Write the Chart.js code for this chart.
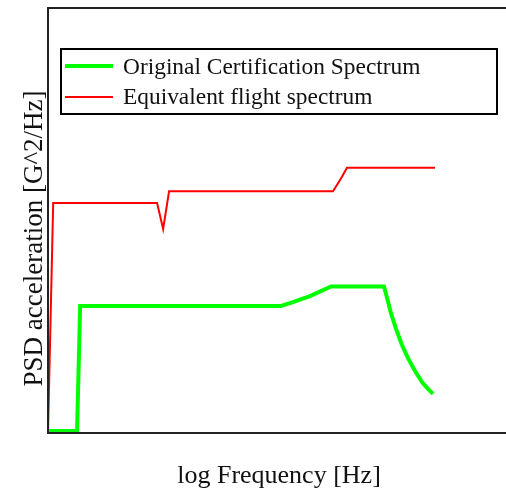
<!DOCTYPE html>
<html>
<head>
<title>PSD spectrum</title>
<script src="https://cdn.jsdelivr.net/npm/chart.js@4/dist/chart.umd.min.js"></script>
<style>
body { margin:0; background:#fff; }
</style>
</head>
<body>
<div style="position:relative;width:506px;height:492px;">
	<canvas id="myChart"></canvas>
</div>
<script>
// frequency [Hz] and PSD values (y in arbitrary units)
var certFreq = [10, 14.6, 15.2, 208, 243, 303, 399, 795, 827, 871, 930, 1005, 1087, 1191, 1304, 1410, 1507];
var certPsd  = [0.005, 0.005, 0.299, 0.299, 0.308, 0.322, 0.345, 0.345, 0.318, 0.282, 0.245, 0.207, 0.176, 0.146, 0.120, 0.104, 0.092];
var flightFreq = [10, 10.7, 41.4, 44.8, 48.4, 409, 430, 460, 491, 1545];
var flightPsd  = [0, 0.541, 0.541, 0.48, 0.569, 0.569, 0.583, 0.603, 0.624, 0.624];
var seriesNames = ['Original Certification Spectrum', 'Equivalent flight spectrum'];
var xTitle = 'log Frequency [Hz]';
var yTitle = 'PSD acceleration [G^2/Hz]';

function pts(xs, ys) {
	var out = [];
	for (var i = 0; i < xs.length; i++) out.push({x: xs[i], y: ys[i]});
	return out;
}

var SERIF = '"Liberation Serif", "DejaVu Serif", serif';

// frame, axis titles and the boxed legend inside the plot
var decor = {
	id: 'decor',
	afterDatasetsDraw: function(chart) {
		var ctx = chart.ctx, a = chart.chartArea;
		ctx.save();
		ctx.strokeStyle = '#222';
		ctx.lineWidth = 2;
		ctx.strokeRect(a.left, a.top, a.right - a.left + 4, a.bottom - a.top);

		ctx.fillStyle = '#111';
		ctx.textAlign = 'center';
		ctx.textBaseline = 'alphabetic';
		ctx.font = '26px ' + SERIF;
		ctx.fillText(xTitle, 279, 483);
		ctx.font = '27px ' + SERIF;
		ctx.translate(41.5, 238.5);
		ctx.rotate(-Math.PI / 2);
		ctx.fillText(yTitle, 0, 0);
		ctx.restore();

		ctx.save();
		ctx.fillStyle = '#fff';
		ctx.fillRect(61, 49, 436, 65);
		ctx.strokeStyle = '#000';
		ctx.lineWidth = 2;
		ctx.strokeRect(61, 49, 436, 65);
		ctx.font = '23.4px ' + SERIF;
		ctx.textBaseline = 'alphabetic';
		ctx.textAlign = 'left';
		var rows = [66, 97], base = [74, 104];
		chart.data.datasets.forEach(function(ds, i) {
			ctx.strokeStyle = ds.borderColor;
			ctx.lineWidth = ds.borderWidth;
			ctx.beginPath();
			ctx.moveTo(65, rows[i]);
			ctx.lineTo(113, rows[i]);
			ctx.stroke();
			ctx.fillStyle = '#111';
			ctx.fillText(ds.label, 123, base[i]);
		});
		ctx.restore();
	}
};

var ctx = document.getElementById('myChart').getContext('2d');
var chart = new Chart(ctx, {
	type: 'line',
	data: {
		datasets: [
			{ label: seriesNames[0], data: pts(certFreq, certPsd), borderColor: '#00ff00', borderWidth: 4, pointRadius: 0, tension: 0, fill: false, clip: false },
			{ label: seriesNames[1], data: pts(flightFreq, flightPsd), borderColor: '#ff0000', borderWidth: 2, pointRadius: 0, tension: 0, fill: false, clip: false }
		]
	},
	options: {
		responsive: true,
		maintainAspectRatio: false,
		animation: false,
		layout: { padding: { left: 48, right: 0, top: 8, bottom: 59 } },
		plugins: { legend: { display: false }, tooltip: { enabled: false } },
		scales: {
			x: { type: 'logarithmic', min: 10, max: 3895, display: false },
			y: { type: 'linear', min: 0, max: 1, display: false }
		}
	},
	plugins: [decor]
});
</script>
</body>
</html>
